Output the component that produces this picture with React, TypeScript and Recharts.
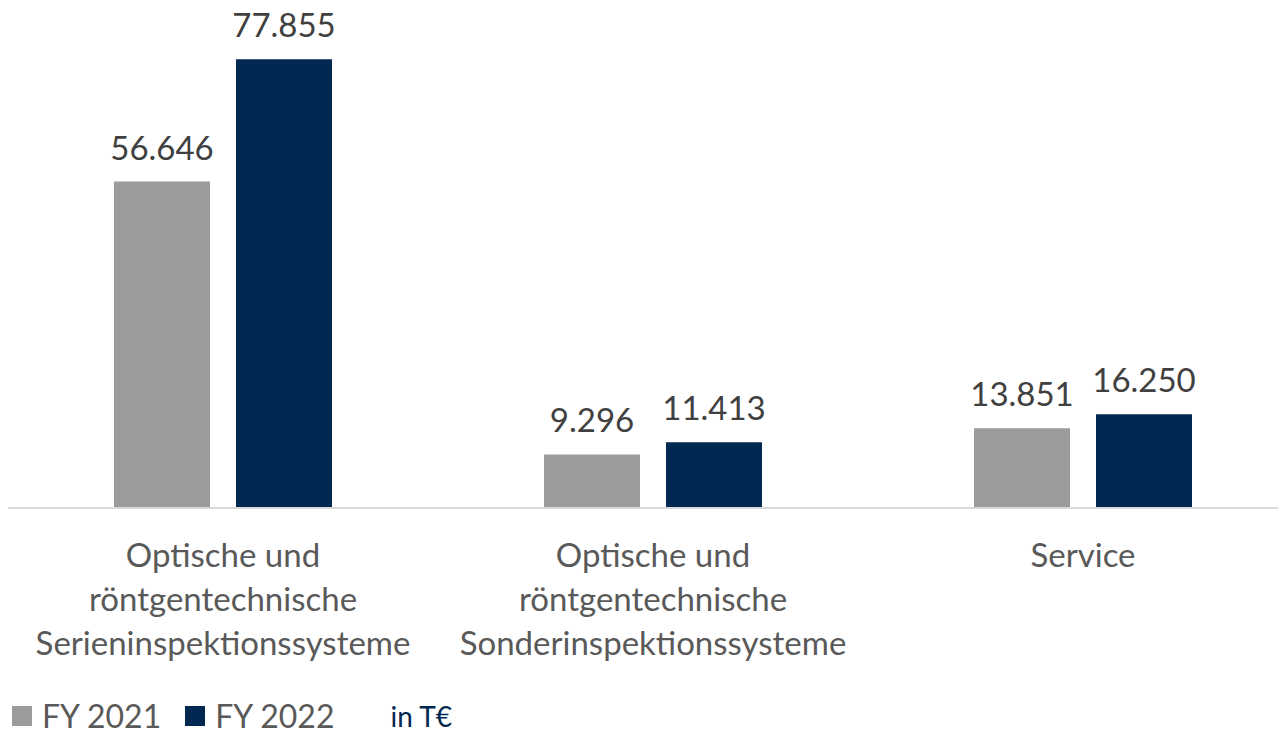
import React from 'react';
import { BarChart, Bar, XAxis, YAxis, Legend, LabelList } from 'recharts';

const categories = [
  ['Optische und', 'röntgentechnische', 'Serieninspektionssysteme'],
  ['Optische und', 'röntgentechnische', 'Sonderinspektionssysteme'],
  ['Service'],
];
const fy2021 = [56646, 9296, 13851];
const fy2022 = [77855, 11413, 16250];
const seriesNames = ['FY 2021', 'FY 2022'];
const seriesColors = ['#9b9b9b', '#002850'];
const unitNote = 'in T€';

const data = categories.map((lines, i) => ({
  name: lines.join('\n'),
  fy2021: fy2021[i],
  fy2022: fy2022[i],
}));

const FONT = 'Lato, "Open Sans", sans-serif';

const fmt = (v: any) => Number(v).toLocaleString('de-DE');

const CategoryTick = (props: any) => {
  const { x, y, payload } = props;
  const lines = String(payload.value).split('\n');
  return (
    <text
      x={x}
      y={y}
      textAnchor="middle"
      fill="#595959"
      fontSize={33}
      fontFamily={FONT}
    >
      {lines.map((line, i) => (
        <tspan key={i} x={x} dy={i === 0 ? 51 : 44}>
          {line}
        </tspan>
      ))}
    </text>
  );
};

const LegendBox = () => (
  <div
    style={{
      display: 'flex',
      alignItems: 'center',
      fontFamily: FONT,
      height: 36,
      lineHeight: '36px',
    }}
  >
    {seriesNames.map((n, i) => (
      <div key={n} style={{ display: 'flex', alignItems: 'center', marginRight: 24 }}>
        <span
          style={{
            width: 20,
            height: 20,
            background: seriesColors[i],
            display: 'inline-block',
            marginRight: 10,
          }}
        />
        <span style={{ fontSize: 32, color: '#595959' }}>{n}</span>
      </div>
    ))}
    <span style={{ fontSize: 28, color: '#002850', marginLeft: 32 }}>{unitNote}</span>
  </div>
);

const App = () => {
  return (
    <div
      style={{
        position: 'absolute',
        left: 0,
        top: 0,
        width: 1278,
        height: 738,
        overflow: 'hidden',
        background: '#ffffff',
      }}
    >
      <BarChart
        width={1298}
        height={738}
        data={data}
        margin={{ top: 47, right: 0, bottom: 4, left: 8 }}
        barGap={26}
        barSize={96}
      >
        <YAxis hide domain={[0, 80000]} />
        <XAxis
          dataKey="name"
          height={190}
          tickLine={false}
          axisLine={{ stroke: '#d9d9d9', strokeWidth: 2 }}
          tick={<CategoryTick />}
          interval={0}
        />
        <Legend
          verticalAlign="bottom"
          align="left"
          content={<LegendBox />}
          wrapperStyle={{ left: 12 }}
        />
        <Bar dataKey="fy2021" name={seriesNames[0]} fill={seriesColors[0]} isAnimationActive={false}>
          <LabelList
            dataKey="fy2021"
            position="top"
            offset={22}
            formatter={fmt}
            fill="#404040"
            fontSize={33}
            fontFamily={FONT}
          />
        </Bar>
        <Bar dataKey="fy2022" name={seriesNames[1]} fill={seriesColors[1]} isAnimationActive={false}>
          <LabelList
            dataKey="fy2022"
            position="top"
            offset={22}
            formatter={fmt}
            fill="#404040"
            fontSize={33}
            fontFamily={FONT}
          />
        </Bar>
      </BarChart>
    </div>
  );
};

export default App;
